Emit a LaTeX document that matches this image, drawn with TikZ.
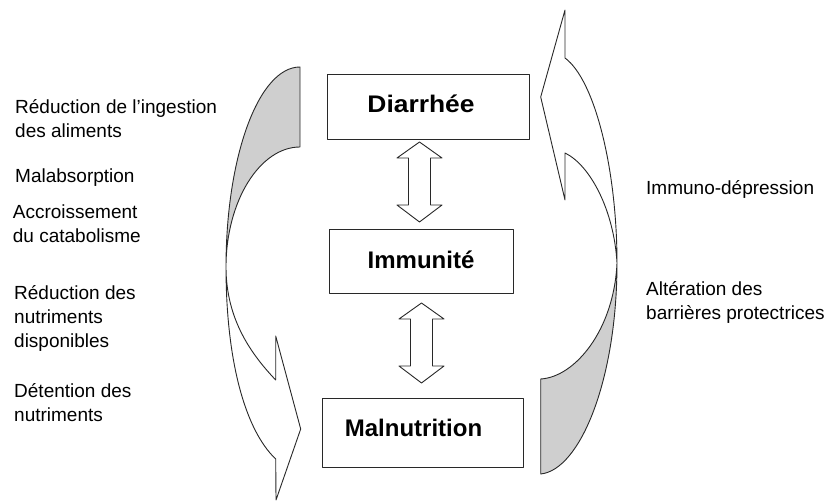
\documentclass[tikz,border=0pt]{standalone}
\usepackage{fontspec}
\setmainfont{Liberation Sans}
\definecolor{grayfill}{RGB}{207,207,207}
\definecolor{linec}{RGB}{40,40,40}
\begin{document}
\begin{tikzpicture}[x=1pt,y=-1pt,
  outline/.style={draw=linec, line width=0.9pt, line join=round},
  box/.style={outline, fill=white, inner sep=0pt, text height=18pt,
    font=\fontsize{24}{28}\selectfont\bfseries},
  lab/.style={font=\fontsize{19}{24}\selectfont, align=left, anchor=base west, inner sep=0pt},
  dbl/.pic={\draw[outline, fill=white] (0,-40) -- (22.5,-24) -- (11,-24) -- (11,23) -- (22.5,23) -- (0,40)
      -- (-22.5,23) -- (-11,23) -- (-11,-24) -- (-22.5,-24) -- cycle;}]
\useasboundingbox (0,0) rectangle (838,502);

% boxes
\node[box, minimum width=202pt, minimum height=65pt, text depth=5pt] (d) at (428,106.5) {\hspace*{-14pt}\scalebox{1.1}[1]{Diarrhée}};
\node[box, minimum width=184pt, minimum height=64pt, text depth=2pt] (i) at (421,261) {Immunité};
\node[box, minimum width=201pt, minimum height=69pt, text depth=9.6pt] (m) at (422.5,432.5) {\hspace*{-18pt}Malnutrition};

% double arrows between boxes
\coordinate (a1) at (419.5,182);
\coordinate (a2) at (421.5,343);
\pic at (a1) {dbl};
\pic at (a2) {dbl};

% left curved arrow
\fill[grayfill] (300,67) .. controls (258.6,67) and (226,156.6) .. (226,267)
  .. controls (226,201) and (260,147) .. (300,147) -- cycle;
\fill[white] (226,267) .. controls (226,360) and (245,430) .. (275.7,459)
  -- (276,500) -- (300.7,429) -- (275.7,336) -- (275.7,380)
  .. controls (252,355) and (226,320) .. (226,267);
\draw[outline] (300,67) .. controls (258.6,67) and (226,156.6) .. (226,267)
  .. controls (226,360) and (245,430) .. (275.7,459)
  -- (276,500) -- (300.7,429) -- (275.7,336) -- (275.7,380)
  .. controls (252,355) and (226,320) .. (226,267)
  .. controls (226,201) and (260,147) .. (300,147) -- cycle;

% right curved arrow
\fill[grayfill] (540.7,379) -- (540.7,474) .. controls (580,470) and (617,380) .. (617,263)
  .. controls (614,330) and (575,377) .. (540.7,379) -- cycle;
\fill[white] (617,263) .. controls (617,170) and (595,80) .. (565,58)
  -- (565,10) -- (540.7,97) -- (565,200) -- (565,153)
  .. controls (590,165) and (614,210) .. (617,263);
\draw[outline] (540.7,379) -- (540.7,474) .. controls (580,470) and (617,380) .. (617,263)
  .. controls (617,170) and (595,80) .. (565,58)
  -- (565,10) -- (540.7,97) -- (565,200) -- (565,153)
  .. controls (590,165) and (614,210) .. (617,263)
  .. controls (614,330) and (575,377) .. (540.7,379) -- cycle;

% labels left
\node[lab] (l1) at (15,137.3) {Réduction de l’ingestion\\des aliments};
\node[lab] (l2) at (15,182.7) {Malabsorption};
\node[lab] (l3) at (12.7,242.7) {Accroissement\\du catabolisme};
\node[lab] (l4) at (14,347.3) {Réduction des\\nutriments\\disponibles};
\node[lab] (l5) at (14,421.7) {Détention des\\nutriments};
% labels right
\node[lab] (r1) at (646,195) {Immuno-dépression};
\node[lab] (r2) at (646,320) {Altération des\\barrières protectrices};
\end{tikzpicture}
\end{document}
